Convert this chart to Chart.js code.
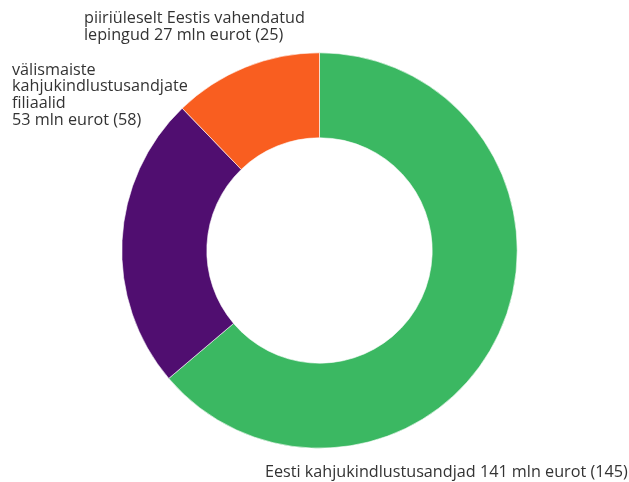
<!DOCTYPE html>
<html>
<head>
<meta charset="utf-8">
<script src="https://cdn.jsdelivr.net/npm/chart.js@4"></script>
<style>
  html, body { margin: 0; padding: 0; background: #fff; }
  #wrap { width: 629px; height: 482px; position: relative; }
</style>
</head>
<body>
<div id="wrap"><canvas id="myChart" width="629" height="482"></canvas></div>
<script>
// kahjukindlustuse turg, mln eurot (sulgudes eelmine aasta)
const categories = ['Eesti kahjukindlustusandjad', 'välismaiste kahjukindlustusandjate filiaalid', 'piiriüleselt Eestis vahendatud lepingud'];
const values = [141, 53, 27];
const previous = [145, 58, 25];
const colors = ['#3bb862', '#500e70', '#f95e20'];

// sildid: read ja ankurpunkt (esimese rea baasjoon)
const labelLines = [
    ['Eesti kahjukindlustusandjad ' + values[0] + ' mln eurot (' + previous[0] + ')'],
    ['välismaiste', 'kahjukindlustusandjate', 'filiaalid', values[1] + ' mln eurot (' + previous[1] + ')'],
    ['piiriüleselt Eestis vahendatud', 'lepingud ' + values[2] + ' mln eurot (' + previous[2] + ')']
];
const labelPos = [[265, 477], [12, 74.5], [84, 23]];

const sliceLabels = {
    id: 'sliceLabels',
    afterDraw(chart) {
        const c = chart.ctx;
        c.save();
        c.font = '16.2px "Open Sans"';
        c.fillStyle = '#333';
        c.textBaseline = 'alphabetic';
        labelLines.forEach((lines, i) => {
            lines.forEach((txt, j) => {
                c.fillText(txt, labelPos[i][0], labelPos[i][1] + j * 16.7);
            });
        });
        c.restore();
    }
};

const ctx = document.getElementById('myChart').getContext('2d');
let myChart = new Chart(ctx, {
    type: 'doughnut',
    data: {
        labels: categories,
        datasets: [{
            data: values,
            backgroundColor: colors,
            borderColor: '#fff',
            borderWidth: 0.6
        }]
    },
    options: {
        responsive: false,
        animation: false,
        cutout: '57%',
        layout: { padding: { left: 10, right: 0, top: 52.5, bottom: 33.5 } },
        plugins: {
            legend: { display: false },
            tooltip: { enabled: false }
        }
    },
    plugins: [sliceLabels]
});
</script>
</body>
</html>
